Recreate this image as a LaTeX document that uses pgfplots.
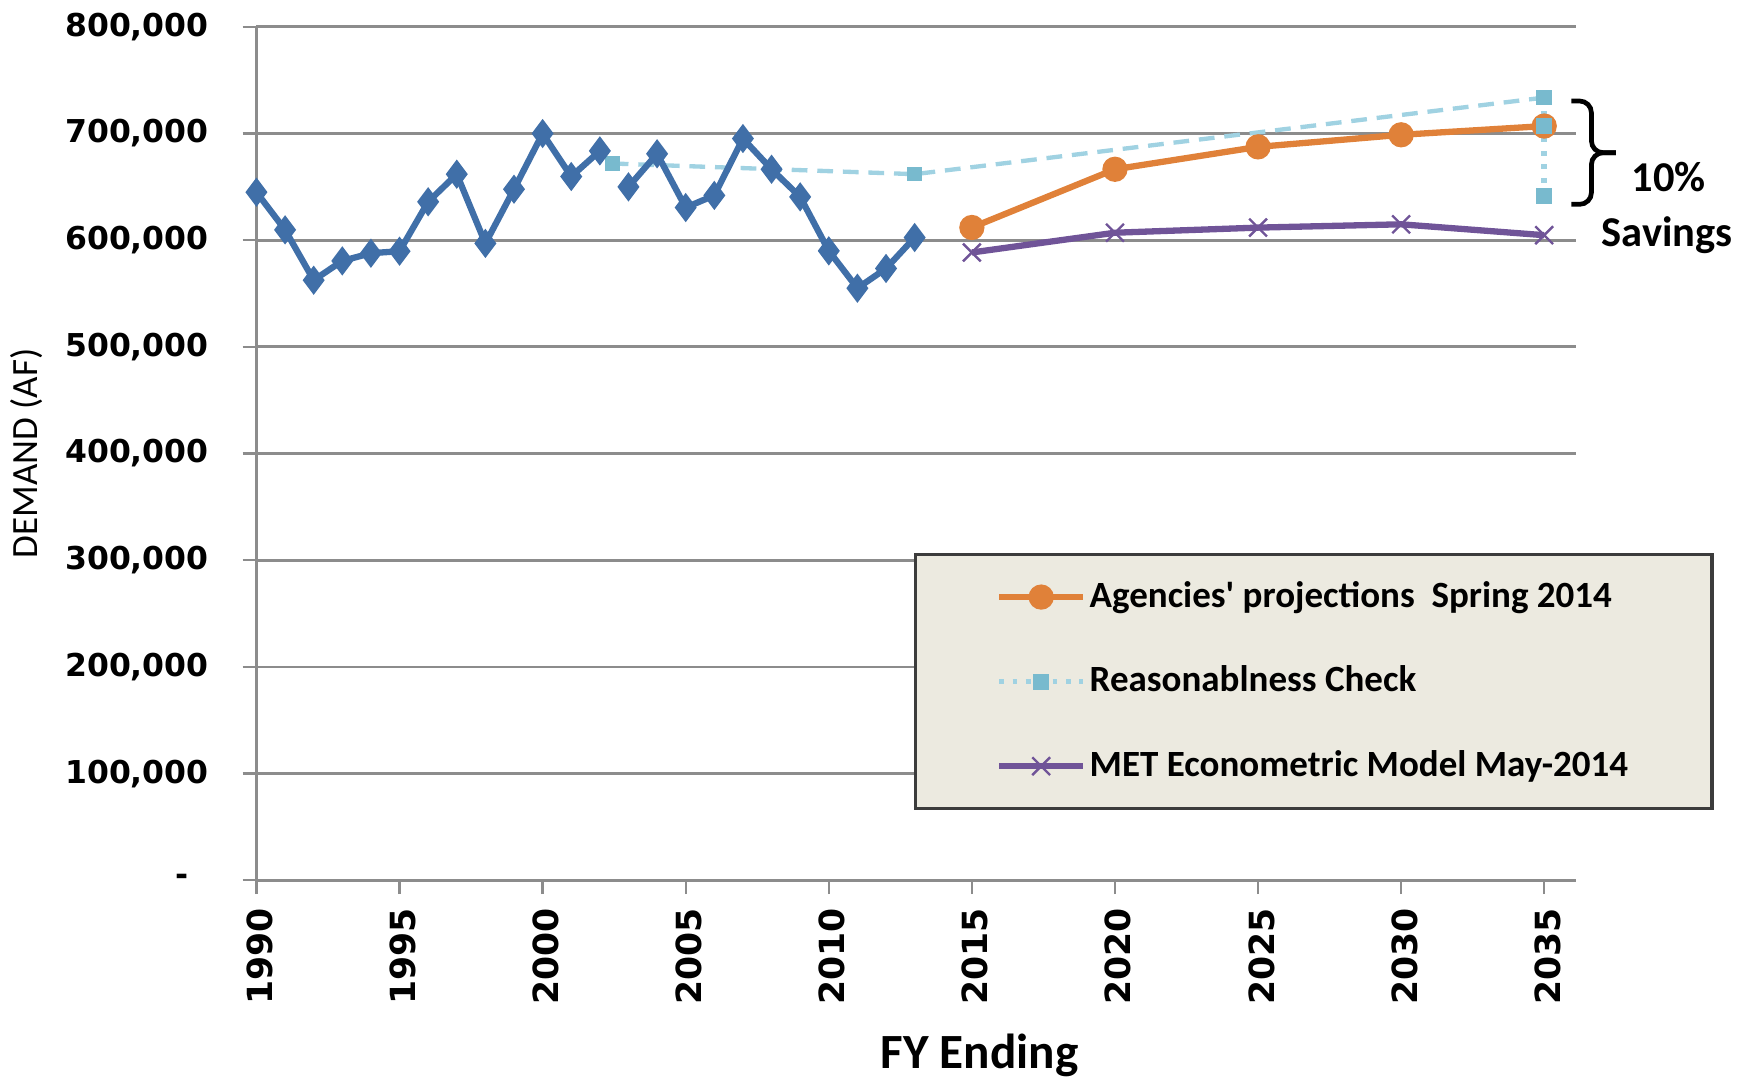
\documentclass[border=0pt]{standalone}
\usepackage{pgfplots}
\pgfplotsset{compat=1.18}
\usepackage{fontspec}
\setmainfont{Carlito}
\newfontfamily\tickfont{DejaVu Sans}
\definecolor{blueS}{RGB}{64,111,168}
\definecolor{orangeS}{RGB}{224,129,57}
\definecolor{lbline}{RGB}{160,210,226}
\definecolor{lbmark}{RGB}{120,186,206}
\definecolor{purpleS}{RGB}{112,84,152}
\definecolor{gridc}{RGB}{140,140,140}
\definecolor{legfill}{RGB}{236,234,224}
\definecolor{legdraw}{RGB}{60,60,60}
\begin{document}
\begin{tikzpicture}
\begin{axis}[
  at={(0,0)}, anchor=south west,
  scale only axis, width=117.8mm, height=76.2mm,
  xmin=1990, xmax=2036.1, ymin=0, ymax=800000,
  scaled y ticks=false, scaled x ticks=false,
  axis lines*=left,
  axis line style={draw=gridc, line width=0.8pt},
  xtick={1990,1995,2000,2005,2010,2015,2020,2025,2030,2035},
  xticklabels={1990,1995,2000,2005,2010,2015,2020,2025,2030,2035},
  ytick={0,100000,200000,300000,400000,500000,600000,700000,800000},
  yticklabels={{-\kern1.8mm},{100,000},{200,000},{300,000},{400,000},{500,000},{600,000},{700,000},{800,000}},
  tick align=outside,
  major tick length=3.5pt,
  tick style={draw=gridc, line width=0.6pt},
  ymajorgrids, grid style={draw=gridc, line width=0.7pt},
  xticklabel style={rotate=90, anchor=east, yshift=-0.3mm, font=\tickfont\bfseries\fontsize{8.8}{8.8}\selectfont},
  yticklabel style={anchor=east, xshift=-1.8mm, font=\tickfont\bfseries\fontsize{8}{8}\selectfont},
  ylabel={DEMAND (AF)},
  ylabel style={at={(axis description cs:-0.174,0.5)}, anchor=center, font=\fontsize{9.4}{9.4}\selectfont},
  xlabel={FY Ending},
  xlabel style={at={(axis description cs:0.548,-0.205)}, anchor=center, font=\bfseries\fontsize{12.5}{12.5}\selectfont},
  clip=false,
  unbounded coords=jump,
  legend image code/.code={\draw[mark repeat=2,mark phase=2,#1] plot coordinates {(0mm,0mm) (3.75mm,0mm) (7.5mm,0mm)};},
  legend style={at={(0.4983,0.3832)}, anchor=north west, fill=legfill, draw=legdraw, line width=0.8pt,
    inner xsep=7.2mm, inner ysep=0pt, row sep=0pt, column sep=0pt,
    font=\bfseries\fontsize{9.4}{9.4}\selectfont,
    nodes={minimum height=7.55mm, inner xsep=0.3mm, anchor=west}},
  legend cell align=left,
]
% Reasonableness check dashed trend
\addplot[lbline, line width=1.1pt, dash pattern=on 4pt off 2.5pt, mark=square*, mark size=1.3pt,
  mark options={solid, fill=lbmark, draw=lbmark}, forget plot]
  coordinates {(2002.45,671900) (2013,661900) (2035,733700)};
% Historical
\addplot[blueS, line width=1.6pt, mark=diamond*, mark size=2.4pt, mark options={solid, fill=blueS}, forget plot]
  coordinates {
  (1990,645000) (1991,609700) (1992,562500) (1993,580600) (1994,587800) (1995,589700)
  (1996,636000) (1997,661900) (1998,597000) (1999,647800) (2000,700000) (2001,659700)
  (2002,683700) (2002.5,nan) (2003,650000) (2004,681000) (2005,630600) (2006,642000)
  (2007,695300) (2008,666500) (2009,640600) (2010,590000) (2011,555000) (2012,573500)
  (2013,602500)};
% Agencies' projections
\addplot[orangeS, line width=1.6pt, mark=*, mark size=2.4pt, mark options={solid, fill=orangeS}]
  coordinates {(2015,611900) (2020,666500) (2025,687500) (2030,698800) (2035,707000)};
\addlegendentry{Agencies\textquotesingle{} projections~~Spring 2014}
% Reasonableness vertical
\addplot[lbline, line width=1.4pt, dash pattern=on 1.2pt off 2.2pt, mark=square*, mark size=1.3pt,
  mark options={solid, fill=lbmark, draw=lbmark}]
  coordinates {(2035,733700) (2035,707000) (2035,641500)};
\addlegendentry{Reasonablness Check}
% MET model
\addplot[purpleS, line width=1.6pt, mark=x, mark size=3.2pt, mark options={solid, line width=0.6pt}]
  coordinates {(2015,588500) (2020,607000) (2025,611800) (2030,614900) (2035,604700)};
\addlegendentry{MET Econometric Model May-2014}
% bracket and annotation
\draw[line width=1.2pt, rounded corners=3pt] (axis cs:2035.95,730500) -- (axis cs:2036.65,730500) -- (axis cs:2036.65,682000) -- (axis cs:2037.5,682000);
\draw[line width=1.2pt, rounded corners=3pt] (axis cs:2035.95,633600) -- (axis cs:2036.65,633600) -- (axis cs:2036.65,682000) -- (axis cs:2037.5,682000);
\node[font=\bfseries\fontsize{10.8}{10.8}\selectfont] at (axis cs:2039.35,659000) {10\%};
\node[font=\bfseries\fontsize{10.8}{10.8}\selectfont] at (axis cs:2039.3,605000) {Savings};
\end{axis}
\pgfresetboundingbox
\path[use as bounding box] (-22.9mm,-17.9mm) rectangle (133.9mm,78.6mm);
\end{tikzpicture}
\end{document}
